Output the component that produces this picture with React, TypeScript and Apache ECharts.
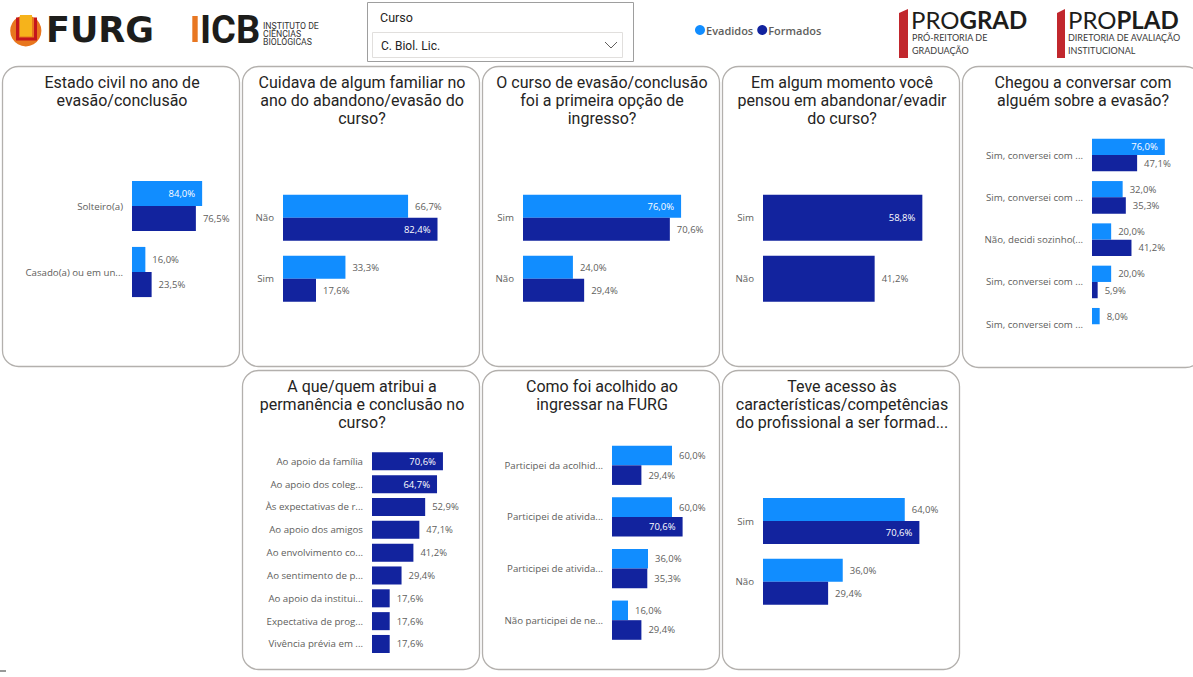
import React, { useEffect, useRef } from 'react';
import * as echarts from 'echarts';

// ---------- DATA ----------
const estadoCivilCats = ['Solteiro(a)', 'Casado(a) ou em un...'];
const estadoCivilEvadidos = [84.0, 16.0];
const estadoCivilFormados = [76.5, 23.5];

const cuidavaCats = ['Não', 'Sim'];
const cuidavaEvadidos = [66.7, 33.3];
const cuidavaFormados = [82.4, 17.6];

const primeiraOpcaoCats = ['Sim', 'Não'];
const primeiraOpcaoEvadidos = [76.0, 24.0];
const primeiraOpcaoFormados = [70.6, 29.4];

const pensouCats = ['Sim', 'Não'];
const pensouFormados = [58.8, 41.2];

const conversarCats = [
  'Sim, conversei com ...',
  'Sim, conversei com ...',
  'Não, decidi sozinho(...',
  'Sim, conversei com ...',
  'Sim, conversei com ...',
];
const conversarEvadidos = [76.0, 32.0, 20.0, 20.0, 8.0];
const conversarFormados = [47.1, 35.3, 41.2, 5.9, null];

const permanenciaCats = [
  'Ao apoio da família',
  'Ao apoio dos coleg...',
  'Às expectativas de r...',
  'Ao apoio dos amigos',
  'Ao envolvimento co...',
  'Ao sentimento de p...',
  'Ao apoio da institui...',
  'Expectativa de prog...',
  'Vivência prévia em ...',
];
const permanenciaFormados = [70.6, 64.7, 52.9, 47.1, 41.2, 29.4, 17.6, 17.6, 17.6];

const acolhidoCats = [
  'Participei da acolhid...',
  'Participei de ativida...',
  'Participei de ativida...',
  'Não participei de ne...',
];
const acolhidoEvadidos = [60.0, 60.0, 36.0, 16.0];
const acolhidoFormados = [29.4, 70.6, 35.3, 29.4];

const acessoCats = ['Sim', 'Não'];
const acessoEvadidos = [64.0, 36.0];
const acessoFormados = [70.6, 29.4];

const seriesNames = ['Evadidos', 'Formados'];
const cursoSelecionado = 'C. Biol. Lic.';

// ---------- STYLE ----------
const C_LIGHT = '#118DFF';
const C_DARK = '#12239E';
const C_LABEL = '#605E5C';
const C_TITLE = '#252423';
const TITLE_FONT = 'Roboto';
const LABEL_FONT = '"Open Sans"';

type Panel = {
  title: string;
  cats: string[];
  ev: (number | null)[] | null;
  fo: (number | null)[] | null;
  box: [number, number, number, number];
  gLeft: number;
  gRight: number;
  gTop: number;
  gBottom: number;
  pxPerPct: number;
  gap: string;
};

const panels: Panel[] = [
  {
    title: 'Estado civil no ano de\nevasão/conclusão',
    cats: estadoCivilCats, ev: estadoCivilEvadidos, fo: estadoCivilFormados,
    box: [2, 66, 238, 301], gLeft: 132, gRight: 232, gTop: 173, gBottom: 305, pxPerPct: 0.835, gap: '24%',
  },
  {
    title: 'Cuidava de algum familiar no\nano do abandono/evasão do\ncurso?',
    cats: cuidavaCats, ev: cuidavaEvadidos, fo: cuidavaFormados,
    box: [242, 66, 238, 301], gLeft: 283, gRight: 472, gTop: 187.2, gBottom: 309.2, pxPerPct: 1.875, gap: '24.5%',
  },
  {
    title: 'O curso de evasão/conclusão\nfoi a primeira opção de\ningresso?',
    cats: primeiraOpcaoCats, ev: primeiraOpcaoEvadidos, fo: primeiraOpcaoFormados,
    box: [482, 66, 238, 301], gLeft: 523, gRight: 712, gTop: 187.2, gBottom: 309.2, pxPerPct: 2.08, gap: '24.5%',
  },
  {
    title: 'Em algum momento você\npensou em abandonar/evadir\ndo curso?',
    cats: pensouCats, ev: null, fo: pensouFormados,
    box: [722, 66, 238, 301], gLeft: 763, gRight: 952, gTop: 187.2, gBottom: 309.2, pxPerPct: 2.71, gap: '24.5%',
  },
  {
    title: 'Chegou a conversar com\nalguém sobre a evasão?',
    cats: conversarCats, ev: conversarEvadidos, fo: conversarFormados,
    box: [962, 66, 240, 302], gLeft: 1092, gRight: 1185, gTop: 133.9, gBottom: 345.4, pxPerPct: 0.958, gap: '23%',
  },
  {
    title: 'A que/quem atribui a\npermanência e conclusão no\ncurso?',
    cats: permanenciaCats, ev: null, fo: permanenciaFormados,
    box: [242, 370, 238, 300], gLeft: 372, gRight: 472, gTop: 449.9, gBottom: 655.4, pxPerPct: 1.005, gap: '21%',
  },
  {
    title: 'Como foi acolhido ao\ningressar na FURG',
    cats: acolhidoCats, ev: acolhidoEvadidos, fo: acolhidoFormados,
    box: [482, 370, 238, 300], gLeft: 612, gRight: 712, gTop: 439.5, gBottom: 646, pxPerPct: 1.0, gap: '24%',
  },
  {
    title: 'Teve acesso às\ncaracterísticas/competências\ndo profissional a ser formad...',
    cats: acessoCats, ev: acessoEvadidos, fo: acessoFormados,
    box: [722, 370, 238, 300], gLeft: 763, gRight: 952, gTop: 490.7, gBottom: 612, pxPerPct: 2.215, gap: '24%',
  },
];

const fmt = (v: number) => v.toFixed(1).replace('.', ',') + '%';

function buildOption() {
  const grid: any[] = [];
  const xAxis: any[] = [];
  const yAxis: any[] = [];
  const series: any[] = [];
  const graphic: any[] = [];

  panels.forEach((p, i) => {
    const width = p.gRight - p.gLeft;
    const max = width / p.pxPerPct;
    const insideFrom = max - 36 / p.pxPerPct;
    grid.push({ left: p.gLeft, top: p.gTop, width, height: p.gBottom - p.gTop });
    xAxis.push({ gridIndex: i, type: 'value', min: 0, max, show: false });
    yAxis.push({
      gridIndex: i,
      type: 'category',
      inverse: true,
      data: p.cats,
      axisLine: { show: false },
      axisTick: { show: false },
      axisLabel: { margin: 9, fontSize: 9.7, color: C_LABEL, fontFamily: LABEL_FONT },
    });
    const mk = (vals: (number | null)[]) =>
      vals.map((v) =>
        v == null
          ? null
          : {
              value: v,
              label:
                v > insideFrom
                  ? { position: 'insideRight', color: '#FFFFFF' }
                  : { position: 'right', color: C_LABEL },
            }
      );
    [p.ev, p.fo].forEach((vals, k) => {
      if (!vals) return;
      series.push({
        type: 'bar',
        name: seriesNames[k],
        xAxisIndex: i,
        yAxisIndex: i,
        data: mk(vals),
        barGap: '0%',
        barCategoryGap: p.gap,
        itemStyle: { color: k === 0 ? C_LIGHT : C_DARK },
        label: {
          show: true,
          distance: 7,
          fontSize: 9.5,
          fontFamily: LABEL_FONT,
          formatter: (q: any) => (q.value == null ? '' : fmt(q.value)),
        },
        emphasis: { disabled: true },
      });
    });

    const [bx, by, bw, bh] = p.box;
    graphic.push({
      type: 'rect',
      shape: { x: bx + 0.5, y: by + 0.5, width: bw - 1, height: bh - 1, r: 16 },
      style: { fill: 'none', stroke: '#B3B0AD', lineWidth: 1.3 },
      silent: true,
    });
    graphic.push({
      type: 'text',
      x: bx + bw / 2 + 1,
      y: by + 7,
      silent: true,
      style: {
        text: p.title,
        textAlign: 'center',
        textVerticalAlign: 'top',
        fontFamily: TITLE_FONT,
        fontSize: 16,
        lineHeight: 18.3,
        fill: C_TITLE,
      },
    });
  });

  // ---- header ----
  graphic.push(
    // FURG logo
    { type: 'circle', shape: { cx: 25.8, cy: 30.8, r: 15.6 }, style: { fill: '#E8761E' }, silent: true },
    { type: 'rect', shape: { x: 20, y: 15, width: 12, height: 21.5 }, style: { fill: '#F6B31B' }, silent: true },
    {
      type: 'polyline',
      shape: { points: [[17.5, 17.5], [17.5, 39], [35.5, 39], [35.5, 17.5]] },
      style: { stroke: '#C4161C', lineWidth: 3, fill: 'none' },
      silent: true,
    },
    {
      type: 'text', x: 46, y: 30, silent: true,
      style: { text: 'FURG', fontFamily: '"DejaVu Sans"', fontWeight: 'bold', fontSize: 35, fill: '#1D1D1B', textVerticalAlign: 'middle' },
    },
    // ICB logo
    { type: 'rect', shape: { x: 192.3, y: 16, width: 5.4, height: 26 }, style: { fill: '#E87722' }, silent: true },
    {
      type: 'text', x: 200, y: 29.5, silent: true,
      style: { text: 'ICB', fontFamily: 'Roboto', fontWeight: 'bold', fontSize: 38, fill: '#1D1D1B', textVerticalAlign: 'middle' },
    },
    {
      type: 'text', x: 263, y: 22, silent: true,
      style: { text: 'INSTITUTO DE\nCIÊNCIAS\nBIOLÓGICAS', fontFamily: 'Roboto', fontSize: 8.7, lineHeight: 7.9, fill: '#333333', textVerticalAlign: 'top' },
    },
    // Slicer
    { type: 'rect', shape: { x: 367.5, y: 2.5, width: 266, height: 59 }, style: { fill: '#FFFFFF', stroke: '#9E9E9E', lineWidth: 1 }, silent: true },
    {
      type: 'text', x: 380, y: 17, silent: true,
      style: { text: 'Curso', fontFamily: 'Roboto', fontSize: 12.5, fill: C_TITLE, textVerticalAlign: 'middle' },
    },
    { type: 'rect', shape: { x: 372.5, y: 32.5, width: 250, height: 25 }, style: { fill: '#FFFFFF', stroke: '#E1DFDD', lineWidth: 1 }, silent: true },
    {
      type: 'text', x: 381, y: 46, silent: true,
      style: { text: cursoSelecionado, fontFamily: 'Roboto', fontSize: 12, fill: C_TITLE, textVerticalAlign: 'middle' },
    },
    {
      type: 'polyline',
      shape: { points: [[605, 42], [611, 48], [617, 42]] },
      style: { stroke: '#605E5C', lineWidth: 1, fill: 'none' },
      silent: true,
    },
    // PROGRAD
    { type: 'polygon', shape: { points: [[899, 13], [908, 9], [908, 58], [899, 58]] }, style: { fill: '#C1272D' }, silent: true },
    {
      type: 'text', x: 911, y: 19, silent: true,
      style: {
        text: '{a|PRO}{b|GRAD}',
        textVerticalAlign: 'middle',
        rich: {
          a: { fontFamily: 'Lato', fontSize: 24, fill: '#1D1D1B', color: '#1D1D1B' },
          b: { fontFamily: 'Lato', fontSize: 24, fontWeight: 'bold', fill: '#1D1D1B', color: '#1D1D1B' },
        },
      },
    },
    {
      type: 'text', x: 912, y: 31, silent: true,
      style: { text: 'PRÓ-REITORIA DE\nGRADUAÇÃO', fontFamily: 'Lato', fontSize: 9, lineHeight: 13, fill: '#3A3A3A', textVerticalAlign: 'top' },
    },
    // PROPLAD
    { type: 'polygon', shape: { points: [[1057, 13], [1065, 9], [1065, 58], [1057, 58]] }, style: { fill: '#C1272D' }, silent: true },
    {
      type: 'text', x: 1068, y: 19, silent: true,
      style: {
        text: '{a|PRO}{b|PLAD}',
        textVerticalAlign: 'middle',
        rich: {
          a: { fontFamily: 'Lato', fontSize: 24, fill: '#1D1D1B', color: '#1D1D1B' },
          b: { fontFamily: 'Lato', fontSize: 24, fontWeight: 'bold', fill: '#1D1D1B', color: '#1D1D1B' },
        },
      },
    },
    {
      type: 'text', x: 1068, y: 31, silent: true,
      style: { text: 'DIRETORIA DE AVALIAÇÃO\nINSTITUCIONAL', fontFamily: 'Lato', fontSize: 9, lineHeight: 13, fill: '#3A3A3A', textVerticalAlign: 'top' },
    },
    // small mark bottom-left
    { type: 'line', shape: { x1: 0, y1: 671, x2: 6, y2: 671 }, style: { stroke: '#777777', lineWidth: 1.5 }, silent: true }
  );

  return {
    animation: false,
    backgroundColor: '#FFFFFF',
    legend: {
      data: seriesNames,
      left: 695,
      top: 24.5,
      padding: 0,
      icon: 'circle',
      itemWidth: 10,
      itemHeight: 10,
      itemGap: 4,
      selectedMode: false,
      textStyle: { fontSize: 11, fontWeight: 600, color: C_LABEL, fontFamily: LABEL_FONT, padding: [0, 0, 0, -4] },
    },
    grid,
    xAxis,
    yAxis,
    series,
    graphic,
  };
}

export default function App() {
  const ref = useRef<HTMLDivElement>(null);
  useEffect(() => {
    if (!ref.current) return;
    const chart = echarts.init(ref.current, null, { renderer: 'svg' });
    chart.setOption(buildOption() as any);
    return () => chart.dispose();
  }, []);
  return (
    <div
      ref={ref}
      style={{ position: 'fixed', left: 0, top: 0, width: 1193, height: 677 }}
    />
  );
}
